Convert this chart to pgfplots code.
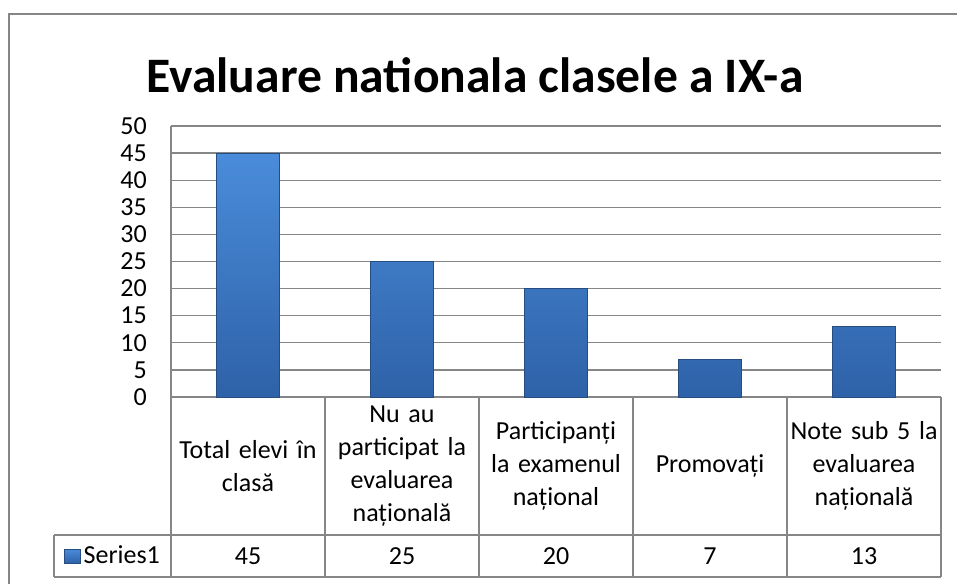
\documentclass[border=0pt]{standalone}
\usepackage{pgfplots}
\pgfplotsset{compat=1.18}
\usepackage{fontspec}
\setmainfont{Carlito}
\definecolor{gridc}{RGB}{134,134,134}
\definecolor{barTop}{RGB}{74,140,218}
\definecolor{barBot}{RGB}{46,98,168}
\definecolor{barEdge}{RGB}{38,76,130}
\def\u{0.75pt}
\begin{document}
\begin{tikzpicture}
\useasboundingbox (0,0) rectangle ({957*\u},{-583*\u});
% chart frame (cropped at right and bottom)
\draw[gridc, line width=1.1pt] ({9*\u},{-640*\u}) -- ({9*\u},{-14*\u}) -- ({1000*\u},{-14*\u});
\node[font=\fontsize{37.2}{44}\selectfont\bfseries, anchor=base] at ({475*\u},{-92*\u}) {Evaluare nationala clasele a IX-a};
\begin{axis}[
  at={({171*\u},{-397*\u})}, anchor=south west,
  scale only axis, width={770*\u}, height={271*\u},
  xmin=-0.5, xmax=4.5, ymin=0, ymax=50,
  ytick={0,5,...,50}, xtick={0,...,4},
  xticklabels={{Total elevi în\\clasă},{Nu au\\participat la\\evaluarea\\națională},{Participanți\\la examenul\\național},{Promovați},{Note sub 5 la\\evaluarea\\națională}},
  axis x line*=bottom, axis y line*=left,
  axis line style={gridc, line width=1pt, -},
  ymajorgrids, grid style={gridc, line width=1pt},
  major tick length=0pt,
  tick label style={font=\fontsize{19.5}{24.75}\selectfont},
  /pgf/number format/assume math mode=true,
  yticklabel style={anchor=east, inner sep=0pt, xshift=-18pt},
  xticklabel style={anchor=center, text width={150*\u}, align=center, inner sep=0pt, yshift=-51.75pt},
  clip=false,
  legend style={at={(axis description cs:-0.139,-0.5867)}, anchor=west, draw=none, fill=none,
    inner sep=0pt, font=\fontsize{19.5}{24.75}\selectfont, nodes={inner sep=2pt}},
  legend image code/.code={\draw[#1] (0pt,-5.25pt) rectangle (12pt,5.25pt);},
]
\addplot[ybar, bar width={63*\u}, top color=barTop, bottom color=barBot, draw=barEdge, line width=0.6pt,
  nodes near coords,
  visualization depends on={\thisrow{v} \as \val},
  every node near coord/.append style={anchor=center, black, font=\fontsize{19.5}{24.75}\selectfont, yshift={-119.25pt-\val*4.065pt}},
] table[x=x, y=v] {
x v
0 45
1 25
2 20
3 7
4 13
};
\addlegendentry{Series1}
\end{axis}
% data table grid
\begin{scope}[gridc, line width=1pt]
  \foreach \xx in {171,325,479,633,787,941} {\draw ({\xx*\u},{-397*\u}) -- ({\xx*\u},{-577*\u});}
  \draw ({54*\u},{-535*\u}) -- ({941*\u},{-535*\u});
  \draw ({54*\u},{-577*\u}) -- ({941*\u},{-577*\u});
  \draw ({54*\u},{-535*\u}) -- ({54*\u},{-577*\u});
\end{scope}
\end{tikzpicture}
\end{document}
